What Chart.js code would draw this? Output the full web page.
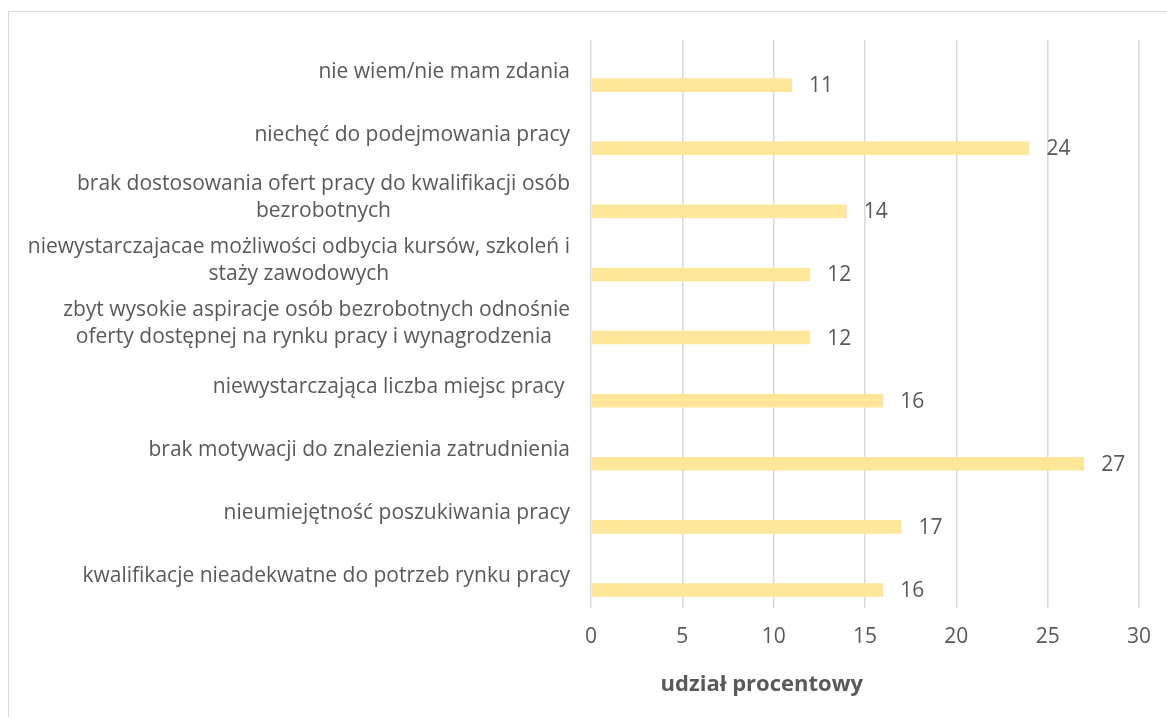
<!DOCTYPE html>
<html>
<head>
<meta charset="utf-8">
<script src="https://cdn.jsdelivr.net/npm/chart.js@4"></script>
<style>
  html, body { margin: 0; padding: 0; background: #fff; }
  #frame { position: absolute; left: 8px; top: 11px; width: 1300px; height: 800px;
           border: 1px solid #d9d9d9; box-sizing: border-box; }
  #chart { position: absolute; left: 0; top: 0; }
</style>
</head>
<body>
<div id="frame"></div>
<canvas id="chart" width="1167" height="717"></canvas>
<script>
// Categories, top to bottom (multi-line labels as arrays)
const categories = [
  ['nie wiem/nie mam zdania'],
  ['niechęć do podejmowania pracy'],
  ['brak dostosowania ofert pracy do kwalifikacji osób', 'bezrobotnych'],
  ['niewystarczajacae możliwości odbycia kursów, szkoleń i', 'staży zawodowych'],
  ['zbyt wysokie aspiracje osób bezrobotnych odnośnie', 'oferty dostępnej na rynku pracy i wynagrodzenia '],
  ['niewystarczająca liczba miejsc pracy '],
  ['brak motywacji do znalezienia zatrudnienia'],
  ['nieumiejętność poszukiwania pracy'],
  ['kwalifikacje nieadekwatne do potrzeb rynku pracy']
];
const shares = [11, 24, 14, 12, 12, 16, 27, 17, 16];
const xTicks = [0, 5, 10, 15, 20, 25, 30];
const axisTitle = 'udział procentowy';

const textColor = '#595959';
const fontFamily = '"Open Sans", sans-serif';
const fontSize = 21;

// Draws the category labels (centered lines, block right-aligned), value labels and axis title
const labelPlugin = {
  id: 'labels',
  afterDatasetsDraw(chart) {
    const ctx = chart.ctx;
    const yScale = chart.scales.y;
    const xScale = chart.scales.x;
    ctx.save();
    ctx.fillStyle = textColor;
    ctx.textBaseline = 'middle';

    // category labels
    ctx.font = fontSize + 'px ' + fontFamily;
    ctx.textAlign = 'center';
    const lineH = 27;
    const rightEdge = yScale.right - 21;
    categories.forEach((lines, i) => {
      const cy = yScale.getPixelForTick(i);
      const w = Math.max(...lines.map(l => ctx.measureText(l).width));
      const cx = rightEdge - w / 2;
      const y0 = cy - (lines.length - 1) * lineH / 2;
      lines.forEach((l, j) => ctx.fillText(l, cx, y0 + j * lineH));
    });

    // value labels
    ctx.textAlign = 'left';
    const meta = chart.getDatasetMeta(1);
    meta.data.forEach((bar, i) => {
      ctx.fillText(String(shares[i]), bar.x + 17, bar.y + 1);
    });

    // axis title
    ctx.font = 'bold 22px ' + fontFamily;
    ctx.textAlign = 'center';
    ctx.fillText(axisTitle, xScale.getPixelForValue(9.35), 685);
    ctx.restore();
  }
};

new Chart(document.getElementById('chart'), {
  type: 'bar',
  data: {
    labels: categories,
    datasets: [
      { label: 'spacer', data: categories.map(() => null), backgroundColor: 'rgba(0,0,0,0)' },
      { label: 'udział', data: shares, backgroundColor: '#FFE699' }
    ]
  },
  options: {
    indexAxis: 'y',
    responsive: false,
    animation: false,
    categoryPercentage: 0.86,
    barPercentage: 0.5,
    layout: { padding: { top: 40, right: 27, bottom: 0, left: 0 } },
    plugins: {
      legend: { display: false },
      tooltip: { enabled: false }
    },
    scales: {
      x: {
        min: 0,
        max: 30,
        afterBuildTicks: (s) => { s.ticks = xTicks.map(v => ({ value: v })); },
        afterFit: (s) => { s.height = 109; },
        ticks: { color: textColor, font: { family: fontFamily, size: fontSize }, padding: 16 },
        grid: { color: '#d9d9d9', lineWidth: 1.5, drawTicks: false },
        border: { display: false }
      },
      y: {
        afterFit: (s) => { s.width = 591; },
        ticks: { display: false },
        grid: { display: false },
        border: { display: false }
      }
    }
  },
  plugins: [labelPlugin]
});
</script>
</body>
</html>
